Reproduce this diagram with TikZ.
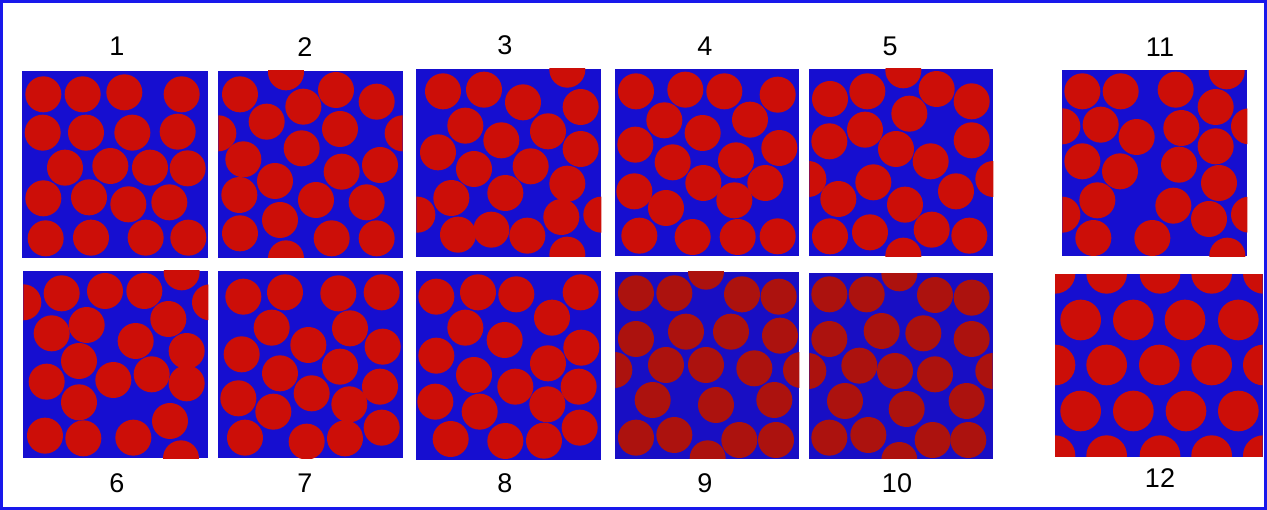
\documentclass[tikz,border=0pt]{standalone}
\usepackage{fontspec}
\setmainfont{Liberation Sans}
\usetikzlibrary{positioning}

\definecolor{matblue}{RGB}{22,14,208}
\definecolor{fibred}{RGB}{204,14,8}
\definecolor{matbluedk}{RGB}{24,14,196}
\definecolor{fibreddk}{RGB}{172,18,14}
\definecolor{frameblue}{RGB}{24,24,235}

\tikzset{
  matrixbox/.style={fill=matblue},
  fibre/.style={fill=fibred},
  lbl/.style={font=\fontsize{27}{30}\selectfont, inner sep=0pt},
}

% one cross-section: [extra opts]{shift}{box}{fibre radius}{fibre centres}
\newcommand{\fibrecell}[5][]{%
  \begin{scope}[shift={#2}, scale=1/3, #1]
    \fill[matrixbox] #3;
    \clip #3;
    \foreach \cx/\cy in {#5} \fill[fibre] (\cx,\cy) circle (#4);
  \end{scope}}

\begin{document}
\begin{tikzpicture}[x=1pt, y=-1pt]
  \useasboundingbox (0,0) rectangle (1267,510);
  \draw[frameblue, line width=3pt] (1.5,1.5) rectangle (1265.5,508.5);

  % Top row
  \fibrecell{(15,65)}{(20,18) rectangle (580,580)}{54}{85/88, 203/88, 328/82, 500/88,
    83/203, 213/203, 352/203, 488/200, 150/308, 286/303, 405/308, 518/310,
    85/400, 222/397, 340/418, 463/412, 92/520, 228/518, 392/518, 520/518}
  \fibrecell{(210,65)}{(25,18) rectangle (578,578)}{54}{90/88, 228/22, 378/75, 500/110, 280/125,
    170/170, 390/192, 25/205, 578/205, 275/250, 100/283, 510/300, 395/320,
    195/348, 88/390, 318/405, 470/412, 210/465, 90/505, 365/520, 500/520, 228/580}
  \fibrecell{(408,63)}{(25,18) rectangle (580,582)}{54}{478/20, 105/85, 228/80, 345/118, 518/132,
    172/188, 420/205, 280/232, 90/268, 518/258, 198/318, 368/310, 478/362,
    130/405, 292/390, 28/455, 580/455, 460/462, 150/515, 250/500, 358/518, 478/575}
  \fibrecell{(606,63)}{(28,18) rectangle (580,580)}{54}{90/85, 238/80, 355/85, 515/95,
    175/172, 432/170, 290/210, 88/245, 520/255, 200/298, 390/292,
    85/385, 292/360, 478/360, 385/412, 180/435, 100/518, 260/522, 395/522, 515/520}
  \fibrecell{(800,63)}{(28,18) rectangle (580,580)}{54}{310/22, 90/108, 202/85, 410/78, 515/115,
    328/152, 195/200, 88/235, 515/232, 288/258, 392/295, 25/348, 580/348,
    220/358, 115/408, 468/385, 315/425, 90/520, 210/508, 395/500, 508/518, 310/578}
  \fibrecell{(1054,63)}{(25,22) rectangle (580,580)}{54}{518/25, 85/85, 200/85, 365/80, 485/132,
    25/190, 140/185, 248/222, 382/195, 585/190, 485/250, 85/295, 198/325, 375/305,
    495/360, 130/412, 358/428, 25/455, 465/468, 585/455, 118/525, 295/525, 520/578}

  % Bottom row
  \fibrecell{(15,265)}{(25,18) rectangle (580,580)}{54}{500/22, 25/112, 140/85, 270/78, 388/78, 585/112,
    460/162, 215/180, 110/205, 362/228, 515/258, 192/288, 95/350, 295/345, 410/328, 515/355,
    192/412, 465/468, 90/512, 205/520, 355/518, 498/580}
  \fibrecell{(210,265)}{(25,18) rectangle (580,580)}{54}{100/95, 225/82, 385/85, 515/82,
    185/188, 420/190, 295/240, 95/268, 518/245, 210/325, 390/305,
    85/400, 305/385, 510/365, 418/418, 190/440, 105/518, 290/530, 405/520, 515/488}
  \fibrecell{(408,265)}{(25,18) rectangle (580,585)}{54}{85/95, 210/82, 325/88, 518/82,
    172/188, 432/158, 290/225, 85/272, 520/248, 198/330, 420/295, 322/365, 512/365,
    82/410, 215/440, 418/418, 515/488, 128/522, 292/528, 408/527}
  \fibrecell[matrixbox/.style={fill=matbluedk}, fibre/.style={fill=fibreddk}]{(606,265)}{(28,20) rectangle (580,582)}{54}{300/20, 90/85, 205/85, 408/88, 518/95,
    90/222, 240/200, 375/200, 522/212, 25/315, 180/300, 300/300, 445/310, 585/315,
    140/405, 330/420, 505/405, 90/518, 205/510, 400/525, 510/525, 305/580}
  \fibrecell[matrixbox/.style={fill=matbluedk}, fibre/.style={fill=fibreddk}]{(800,265)}{(28,25) rectangle (578,582)}{54}{298/25, 88/88, 200/88, 405/90, 515/98,
    88/222, 245/198, 370/205, 515/222, 25/318, 178/302, 285/318, 405/328, 580/318,
    135/408, 320/432, 500/408, 88/518, 205/510, 398/525, 505/525, 298/585}
  \fibrecell{(1050,265)}{(15,28) rectangle (638,575)}{61}{15/25, 170/25, 330/25, 485/25, 640/25,
    92/165, 250/165, 405/165, 565/165, 15/300, 170/300, 328/300, 485/300, 640/300,
    92/438, 250/438, 408/438, 565/438, 15/572, 170/572, 330/572, 485/572, 640/572}

  % Labels
  \node[lbl] (l1) at (117,46) {1};
  \node[lbl] (l2) at (305,47) {2};
  \node[lbl] (l3) at (505,45) {3};
  \node[lbl] (l4) at (705,46) {4};
  \node[lbl] (l5) at (890,46) {5};
  \node[lbl] (l11) at (1160,47) {11};
  \node[lbl] (l6) at (117,483) {6};
  \node[lbl] (l7) at (305,483) {7};
  \node[lbl] (l8) at (505,483) {8};
  \node[lbl] (l9) at (705,483) {9};
  \node[lbl] (l10) at (897,483) {10};
  \node[lbl] (l12) at (1160,478) {12};
\end{tikzpicture}
\end{document}
